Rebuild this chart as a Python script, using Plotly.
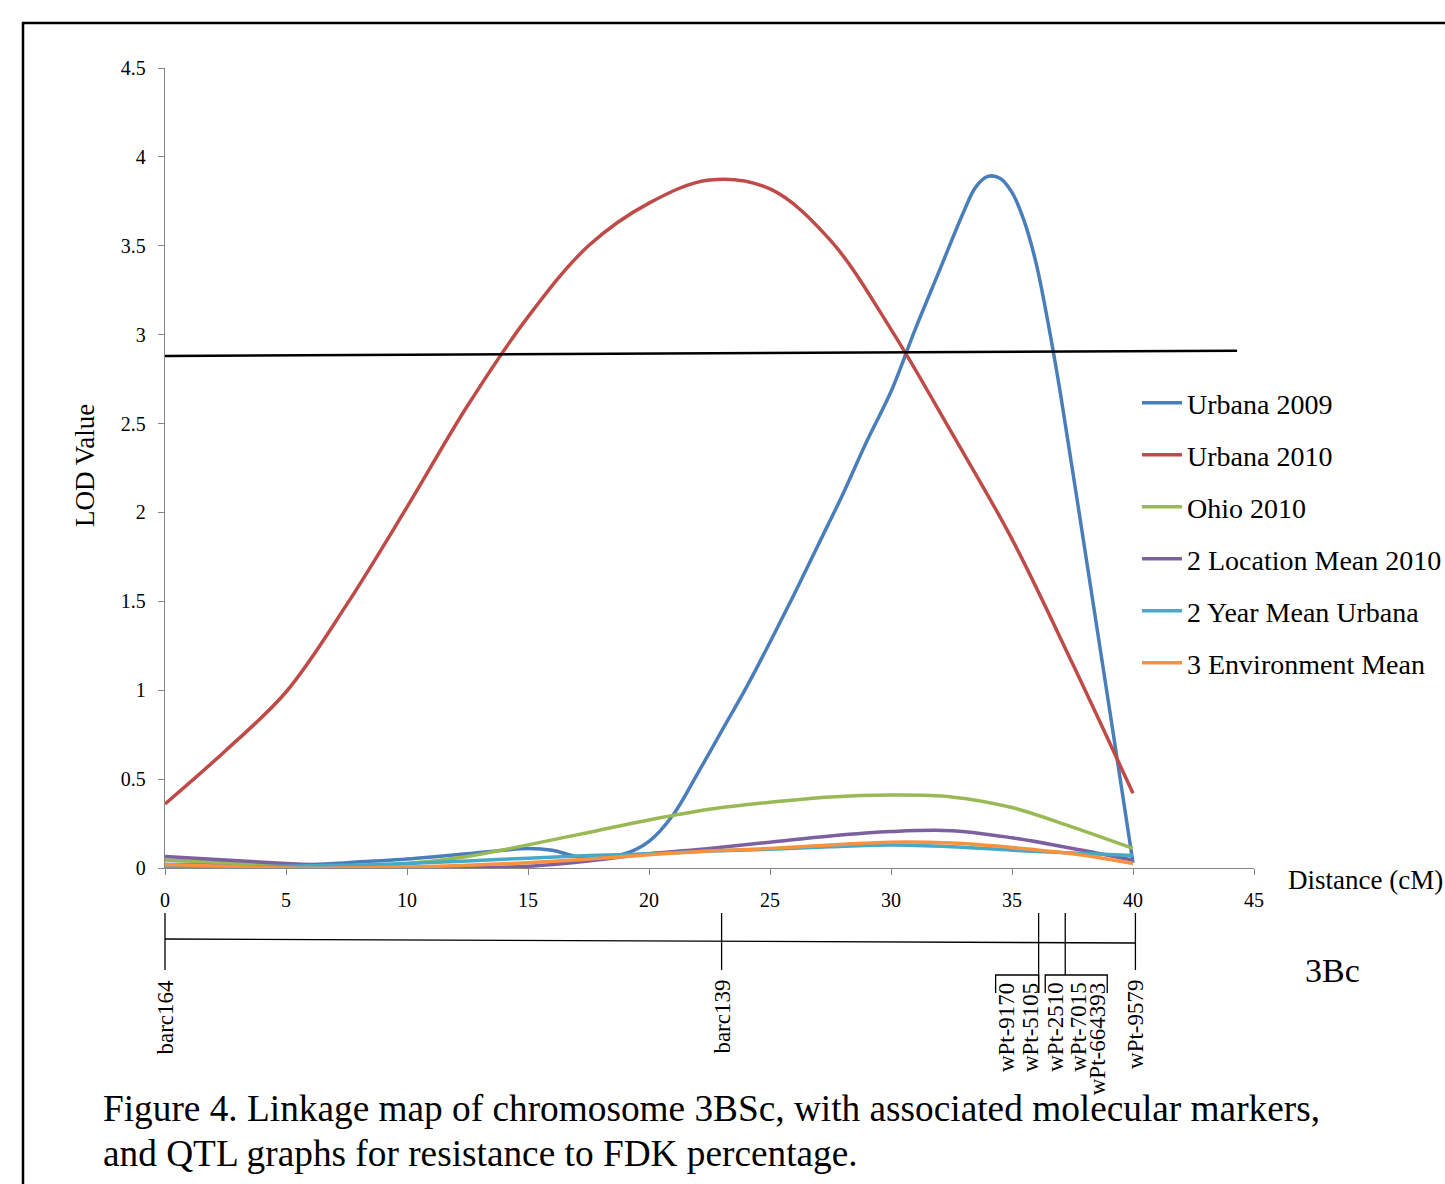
import plotly.graph_objects as go

# ---------------- data ----------------
grid_cm = [0, 2.5, 5, 7.5, 10, 12.5, 15, 17.5, 20, 22.5, 25, 27.5, 30, 32.5, 35, 37.5, 40]

urbana2009_cm = [0, 2.5, 5, 7.5, 10, 12.5, 14, 15, 16, 17, 18, 19, 20, 21, 22, 23, 24, 25,
                 26, 27, 28, 29, 30, 31, 32, 33, 33.5, 34, 34.5, 35, 35.5, 36, 36.5, 37,
                 38, 39, 40]
urbana2009_lod = [0.02, 0.02, 0.015, 0.03, 0.05, 0.08, 0.10, 0.11, 0.10, 0.065, 0.06, 0.08,
                  0.15, 0.30, 0.53, 0.77, 1.01, 1.27, 1.54, 1.82, 2.10, 2.40, 2.68, 3.03,
                  3.36, 3.69, 3.83, 3.89, 3.88, 3.80, 3.64, 3.40, 3.06, 2.67, 1.80, 0.92, 0.03]

urbana2010_lod = [0.36, 0.66, 0.99, 1.48, 2.03, 2.60, 3.10, 3.50, 3.74, 3.87, 3.82, 3.53,
                  3.03, 2.45, 1.85, 1.15, 0.42]
ohio2010_lod = [0.045, 0.03, 0.015, 0.01, 0.025, 0.065, 0.13, 0.20, 0.27, 0.33, 0.37, 0.40,
                0.41, 0.40, 0.34, 0.23, 0.11]
loc2mean_lod = [0.065, 0.045, 0.025, 0.01, 0.0, 0.0, 0.01, 0.04, 0.08, 0.11, 0.145, 0.18,
                0.205, 0.21, 0.17, 0.11, 0.045]
year2mean_lod = [0.0, 0.005, 0.01, 0.015, 0.025, 0.04, 0.055, 0.07, 0.08, 0.095, 0.105, 0.12,
                 0.13, 0.12, 0.10, 0.085, 0.07]
env3mean_lod = [0.02, 0.01, 0.0, 0.0, 0.005, 0.015, 0.03, 0.05, 0.075, 0.095, 0.11, 0.13,
                0.145, 0.14, 0.115, 0.08, 0.025]

threshold_cm = [0, 44.3]
threshold_lod = [2.88, 2.91]

series_names = ["Urbana 2009", "Urbana 2010", "Ohio 2010", "2 Location Mean 2010",
                "2 Year Mean Urbana", "3 Environment Mean"]

# linkage map markers (position in cM, names)
marker_pos_cm = [0, 23.0, 36.1, 37.2, 40.1]
marker_names = [["barc164"], ["barc139"], ["wPt-9170", "wPt-5105"],
                ["wPt-2510", "wPt-7015", "wPt-664393"], ["wPt-9579"]]

x_ticks = [0, 5, 10, 15, 20, 25, 30, 35, 40, 45]
y_ticks = [0, 0.5, 1, 1.5, 2, 2.5, 3, 3.5, 4, 4.5]
y_tick_text = ["0", "0.5", "1", "1.5", "2", "2.5", "3", "3.5", "4", "4.5"]

caption_lines = ["Figure 4. Linkage map of chromosome 3BSc, with associated molecular markers,",
                 "and QTL graphs for resistance to FDK percentage."]

# ---------------- layout constants (page pixel coordinates) ----------------
W, H = 1445, 1184
PL, PR, PT, PB = 165, 1254, 68, 868
X_RANGE = [0, 45]
Y_RANGE = [0, 4.5]
FONT = "Liberation Serif, Times New Roman, serif"
AXIS_GRAY = "#868686"
colors = ["#4A7EBB", "#BE4B48", "#98B954", "#7D60A0", "#46AAC5", "#F69240"]


def py(p):
    return (PB - p) / (PB - PT)


def px(p):
    return (p - PL) / (PR - PL)


def cmx(v):
    return (v - X_RANGE[0]) / (X_RANGE[1] - X_RANGE[0])


PX_PER_CM = (PR - PL) / (X_RANGE[1] - X_RANGE[0])

fig = go.Figure()

xs = [urbana2009_cm, grid_cm, grid_cm, grid_cm, grid_cm, grid_cm]
ys = [urbana2009_lod, urbana2010_lod, ohio2010_lod, loc2mean_lod, year2mean_lod, env3mean_lod]

for i, (name, x, y) in enumerate(zip(series_names, xs, ys)):
    fig.add_trace(go.Scatter(x=x, y=y, mode="lines", name=name,
                             line=dict(color=colors[i], width=3.5, shape="spline", smoothing=1.0),
                             legendgroup=name, cliponaxis=False))

fig.add_trace(go.Scatter(x=threshold_cm, y=threshold_lod, mode="lines", showlegend=False,
                         line=dict(color="black", width=2.5), hoverinfo="skip"))

shapes = []
annotations = []

# outer border
shapes.append(dict(type="rect", xref="paper", yref="paper",
                   x0=px(23), x1=px(W + 50), y0=py(H + 50), y1=py(23),
                   line=dict(color="black", width=2.5), fillcolor="rgba(0,0,0,0)"))

# linkage map backbone
shapes.append(dict(type="line", xref="paper", yref="paper",
                   x0=cmx(marker_pos_cm[0]), x1=cmx(marker_pos_cm[-1]),
                   y0=py(939), y1=py(943), line=dict(color="black", width=1.3)))

label_offsets = {1: [0], 2: [-32, -8], 3: [-10, 13, 32]}
bracket_ext = {2: (-43, 0), 3: (-20, 42)}

for pos, names in zip(marker_pos_cm, marker_names):
    n = len(names)
    bottom = 993 if n == 2 else (975 if n == 3 else 970)
    shapes.append(dict(type="line", xref="paper", yref="paper",
                       x0=cmx(pos), x1=cmx(pos), y0=py(913), y1=py(bottom),
                       line=dict(color="black", width=1.3)))
    if n > 1:
        lo, hi = bracket_ext[n]
        xl = cmx(pos + lo / PX_PER_CM)
        xr = cmx(pos + hi / PX_PER_CM)
        shapes.append(dict(type="path", xref="paper", yref="paper",
                           path=f"M{xl},{py(993)} L{xl},{py(975)} L{xr},{py(975)} L{xr},{py(993)}",
                           line=dict(color="black", width=1.3)))
    for off, nm in zip(label_offsets[n], names):
        annotations.append(dict(text=nm, xref="paper", yref="paper",
                                x=cmx(pos + off / PX_PER_CM), y=py(978 if n == 1 else 981),
                                xanchor="center", yanchor="top", textangle=-90, showarrow=False,
                                font=dict(family=FONT, size=23, color="black")))

# axis titles & misc text
annotations.append(dict(text="LOD Value", xref="paper", yref="paper", x=px(85), y=py(466),
                        xanchor="center", yanchor="middle", textangle=-90, showarrow=False,
                        font=dict(family=FONT, size=27, color="black")))
annotations.append(dict(text="Distance (cM)", xref="paper", yref="paper", x=px(1286), y=py(880),
                        xanchor="left", yanchor="middle", showarrow=False,
                        font=dict(family=FONT, size=27, color="black")))
annotations.append(dict(text="3Bc", xref="paper", yref="paper", x=px(1332), y=py(970),
                        xanchor="center", yanchor="middle", showarrow=False,
                        font=dict(family=FONT, size=34, color="black")))
for line_text, yc in zip(caption_lines, [1108, 1153]):
    annotations.append(dict(text=line_text, xref="paper", yref="paper", x=px(101), y=py(yc),
                            xanchor="left", yanchor="middle", align="left", showarrow=False,
                            font=dict(family=FONT, size=37.3, color="black")))

fig.update_layout(
    width=W, height=H,
    margin=dict(l=PL, r=W - PR, t=PT, b=H - PB, pad=0, autoexpand=False),
    paper_bgcolor="white", plot_bgcolor="white",
    font=dict(family=FONT, color="black"),
    showlegend=True,
    legend=dict(x=px(1137), y=py(378), xanchor="left", yanchor="top",
                font=dict(family=FONT, size=28, color="black"),
                tracegroupgap=12.6, itemwidth=40, bgcolor="rgba(0,0,0,0)"),
    shapes=shapes, annotations=annotations,
    xaxis=dict(range=X_RANGE, tickvals=x_ticks, showline=True, linecolor=AXIS_GRAY, linewidth=1.3,
               ticks="outside", ticklen=6, tickcolor=AXIS_GRAY, tickwidth=1.3,
               showgrid=False, zeroline=False, fixedrange=True, ticklabelstandoff=8,
               tickfont=dict(family=FONT, size=20, color="black")),
    yaxis=dict(range=Y_RANGE, tickvals=y_ticks, ticktext=y_tick_text, showline=True,
               linecolor=AXIS_GRAY, linewidth=1.3, ticks="outside", ticklen=6,
               tickcolor=AXIS_GRAY, tickwidth=1.3, showgrid=False, zeroline=False,
               fixedrange=True, ticklabelstandoff=8,
               tickfont=dict(family=FONT, size=20, color="black")),
)

fig.write_html("out.html", config={"displayModeBar": False},
               post_script="document.body.style.margin='0';document.body.style.overflow='hidden';")
